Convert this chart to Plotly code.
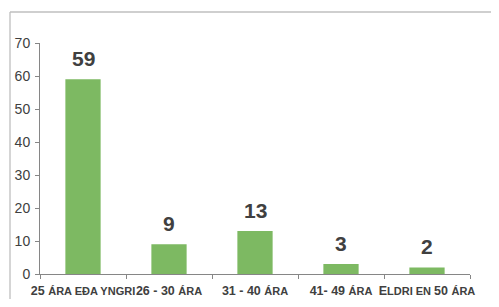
import plotly.graph_objects as go

categories = ["25 ára eða yngri", "26 - 30 ára", "31 - 40 ára", "41- 49 ára", "Eldri en 50 ára"]
values = [59, 9, 13, 3, 2]
# tick labels rendered as small caps (large part, small part pieces)
tick_parts = [
    [("25 ", True), ("ÁRA EÐA YNGRI", False)],
    [("26 - 30 ", True), ("ÁRA", False)],
    [("31 - 40 ", True), ("ÁRA", False)],
    [("41- 49 ", True), ("ÁRA", False)],
    [("E", True), ("LDRI EN ", False), ("50 ", True), ("ÁRA", False)],
]
y_ticks = [0, 10, 20, 30, 40, 50, 60, 70]

def small_caps(parts):
    out = ""
    for txt, big in parts:
        size = 12.5 if big else 11
        out += f'<span style="font-size:{size}px">{txt}</span>'
    return "<b>" + out + "</b>"

tick_text = [small_caps(p) for p in tick_parts]

# page body has an 8px margin; figure sized to fit inside the window
W, H = 483, 291
ml, mt = 32, 35
pw, ph = 430, 231
mr, mb = W - ml - pw, H - mt - ph

FONT = "Liberation Sans, Arial, sans-serif"

fig = go.Figure()
fig.add_trace(go.Bar(
    x=categories, y=values,
    marker=dict(color="#7DB962", line=dict(width=0)),
    width=0.41,
))

for c, v in zip(categories, values):
    fig.add_annotation(
        x=c, y=v, text=f"<b>{v}</b>", showarrow=False,
        yanchor="bottom", yshift=7,
        font=dict(family=FONT, size=21, color="#404040"),
    )

# outer chart frame (top and left edges visible in the window)
frame_x = (2 - ml) / pw
frame_y = 1 + (mt - 4) / ph
fig.add_shape(type="line", xref="paper", yref="paper",
              x0=frame_x, x1=1.2, y0=frame_y, y1=frame_y,
              line=dict(color="#BFBFBF", width=1.3), layer="below")
fig.add_shape(type="line", xref="paper", yref="paper",
              x0=frame_x, x1=frame_x, y0=-0.3, y1=frame_y,
              line=dict(color="#BFBFBF", width=1.3), layer="below")

fig.update_layout(
    width=W, height=H,
    margin=dict(l=ml, r=mr, t=mt, b=mb, pad=0),
    paper_bgcolor="white", plot_bgcolor="white",
    showlegend=False,
    font=dict(family=FONT, color="#404040"),
)
fig.update_xaxes(
    tickvals=categories, ticktext=tick_text, tickangle=0, automargin=False,
    showline=True, linecolor="#868686", linewidth=1,
    ticks="outside", tickson="boundaries", ticklen=4, tickcolor="#868686",
    ticklabelstandoff=6,
    showgrid=False, tickfont=dict(size=12, color="#404040"),
)
fig.update_yaxes(
    range=[0, 70], tickvals=y_ticks, ticktext=[str(t) for t in y_ticks],
    automargin=False,
    showline=True, linecolor="#868686", linewidth=1,
    ticks="outside", ticklen=4, tickcolor="#868686",
    ticklabelstandoff=2,
    showgrid=False, zeroline=False, tickfont=dict(size=14, color="#404040"),
)

fig.write_html("out.html")
